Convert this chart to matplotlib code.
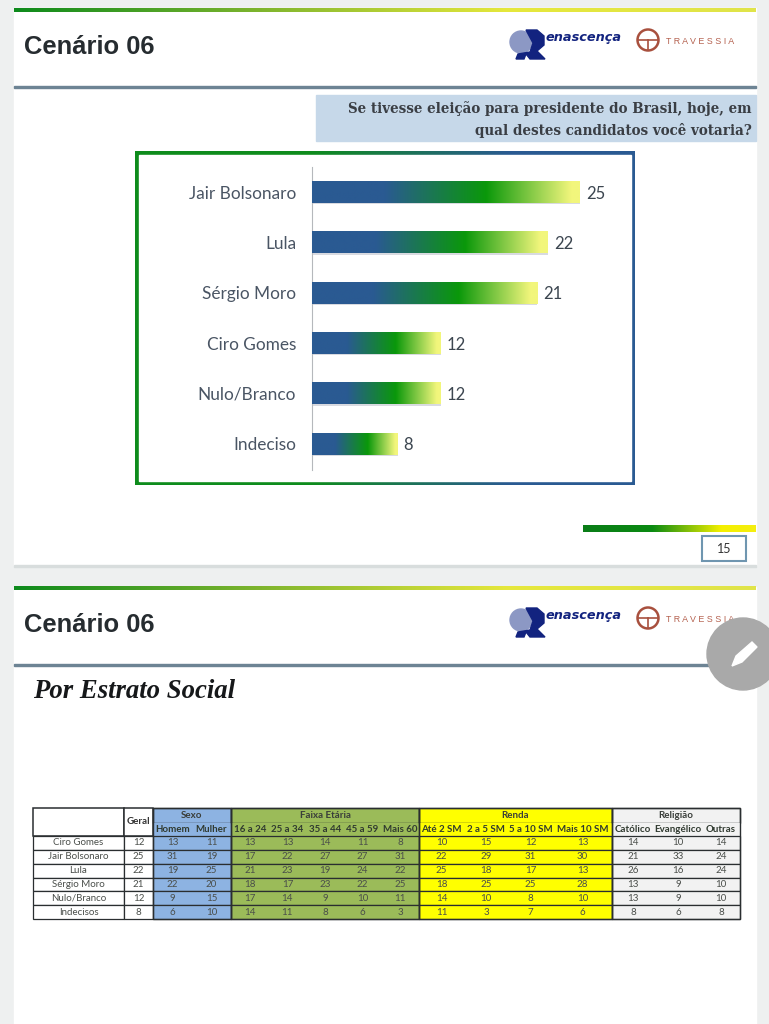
import numpy as np
import matplotlib
matplotlib.use("Agg")
import matplotlib.pyplot as plt
from matplotlib.colors import LinearSegmentedColormap as LSC
from matplotlib.patches import Rectangle, Circle, Polygon

# ---------- data ----------
candidates = ["Jair Bolsonaro", "Lula", "Sérgio Moro", "Ciro Gomes", "Nulo/Branco", "Indeciso"]
votes = [25, 22, 21, 12, 12, 8]

row_labels = ["Ciro Gomes", "Jair Bolsonaro", "Lula", "Sérgio Moro", "Nulo/Branco", "Indecisos"]
geral = [12, 25, 22, 21, 12, 8]
sexo_cols = ["Homem", "Mulher"]
sexo = [[13, 11], [31, 19], [19, 25], [22, 20], [9, 15], [6, 10]]
idade_cols = ["16 a 24", "25 a 34", "35 a 44", "45 a 59", "Mais 60"]
idade = [[13, 13, 14, 11, 8], [17, 22, 27, 27, 31], [21, 23, 19, 24, 22],
         [18, 17, 23, 22, 25], [17, 14, 9, 10, 11], [14, 11, 8, 6, 3]]
renda_cols = ["Até 2 SM", "2 a 5 SM", "5 a 10 SM", "Mais 10 SM"]
renda = [[10, 15, 12, 13], [22, 29, 31, 30], [25, 18, 17, 13],
         [18, 25, 25, 28], [14, 10, 8, 10], [11, 3, 7, 6]]
religiao_cols = ["Católico", "Evangélico", "Outras"]
religiao = [[14, 10, 14], [21, 33, 24], [26, 16, 24], [13, 9, 10], [13, 9, 10], [8, 6, 8]]

# ---------- canvas ----------
BG = "#eef0f0"
fig = plt.figure(figsize=(7.69, 10.24), dpi=100, facecolor=BG)
pg = fig.add_axes([0, 0, 1, 1])
pg.set_xlim(0, 769); pg.set_ylim(1024, 0); pg.axis("off")

bar_cmap = LSC.from_list("bar", [(0, "#2a5a92"), (.27, "#2a5a92"), (.65, "#0a980a"), (.97, "#f2f67c"), (1, "#f2f67c")])
rule_cmap = LSC.from_list("rule", ["#0d8a1c", "#7fb52e", "#e6e83c", "#e0e44a"])
foot_cmap = LSC.from_list("foot", [(0, "#0a7d18"), (.4, "#0a8a12"), (.8, "#f4f000"), (1, "#f4ee10")])
box_cmap = LSC.from_list("box", [(0, "#0e8c1c"), (.35, "#0e8c1c"), (.75, "#2a5a92"), (1, "#2a5a92")])
grad = np.linspace(0, 1, 256).reshape(1, -1)


def grad_rect(ax, x0, x1, y0, y1, cmap, z=2):
    ax.imshow(grad, cmap=cmap, extent=(x0, x1, y1, y0), aspect="auto", zorder=z, interpolation="bilinear")


def slide_header(top, rule):
    grad_rect(pg, 14, 756, top, top + 4, rule_cmap, 3)
    pg.text(24, top + 39.5, "Cenário 06", family="Liberation Sans", weight="bold", size=18.4,
            color="#262c30", va="center")
    pg.add_patch(Rectangle((14, rule - 1), 742, 2, color="#6d8494", zorder=3))
    # Renascença logo
    y = top + 35
    pg.add_patch(Circle((521, y - 1), 11, color="#8c98c4", zorder=3))
    pg.add_patch(Polygon([[526, y - 13], [537, y - 13], [544, y - 7], [544, y + 2], [537, y + 8], [545, y + 16],
                          [530, y + 16], [526, y + 11], [524, y + 16], [516, y + 16], [518, y + 11], [530, y + 9],
                          [533, y]], color="#12237f", zorder=4))
    pg.text(546, y - 5, "enascença", family="DejaVu Sans", weight="bold", style="italic", size=9.3,
            color="#12237f", va="center")
    # Travessia logo
    pg.add_patch(Circle((648, y - 3), 10.5, fc="white", ec="#a8503e", lw=1.8, zorder=3))
    pg.plot([638, 658], [y - 3, y - 3], color="#a8503e", lw=1.2, zorder=4)
    pg.plot([648, 648], [y - 3, y + 7], color="#a8503e", lw=1.2, zorder=4)
    pg.text(666, y - 2, "T R A V E S S I A", family="Liberation Sans", size=6.4, color="#b4604e",
            va="center", zorder=2)


# slides
pg.add_patch(Rectangle((14, 8), 742, 558, color="white", zorder=1))
pg.add_patch(Rectangle((14, 587), 742, 437, color="white", zorder=1))
pg.add_patch(Rectangle((14, 565), 742, 1.5, color="#d8dddd", zorder=2))
slide_header(8, 87)
slide_header(586, 665)

# question box
pg.add_patch(Rectangle((316, 95), 440, 46, color="#c6d8e9", zorder=2))
for yy, s in [(109, "Se tivesse eleição para presidente do Brasil, hoje, em"),
              (130, "qual destes candidatos você votaria?")]:
    pg.text(752, yy, s, family="DejaVu Serif", weight="bold", size=9.75, ha="right", va="center",
            color="#3a3e44", zorder=3)

# gradient frame
grad_rect(pg, 135, 635, 151, 485, box_cmap, 2)
pg.add_patch(Rectangle((139, 155), 492, 326, color="white", zorder=3))

# footer
grad_rect(pg, 583, 756, 525, 532, foot_cmap, 3)
pg.add_patch(Rectangle((702, 536), 44, 25, fc="white", ec="#6f96b0", lw=1.5, zorder=3))
pg.text(724, 549, "15", family="Lato", size=9, ha="center", va="center", color="#333", zorder=4)

pg.text(33, 692, "Por Estrato Social", family="Liberation Serif", weight="bold", style="italic",
        size=19.3, va="center", color="#16181a", zorder=3)

# pencil button
pg.add_patch(Circle((743, 654), 36, color="#a9a9a9", zorder=6))
pg.add_patch(Polygon([[732, 666], [736, 656], [752, 642], [757, 647], [742, 662]], color="white", zorder=7))

# ---------- bar chart ----------
W, H = 769, 1024
ax = fig.add_axes([312 / W, 1 - 470 / H, 300 / W, (470 - 167) / H], facecolor="none", zorder=5)
ypos = np.arange(len(candidates))
bars = ax.barh(ypos, votes, height=0.43, color="none", zorder=2)
for b, v in zip(bars, votes):
    x0, y0, w, h = b.get_x(), b.get_y(), b.get_width(), b.get_height()
    ax.barh(b.get_y() + h / 2 + 0.03, w, height=h, color="#d8dae0", zorder=1)
    ax.imshow(grad, cmap=bar_cmap, extent=(x0, x0 + w, y0 + h, y0), aspect="auto", zorder=3,
              interpolation="bilinear")
    ax.text(v + 0.55, y0 + h / 2 + 0.03, str(v), family="Lato", size=12, va="center", color="#3c4650")
ax.set_xlim(0, 300 / 10.72)
ax.set_ylim(len(candidates) - 0.5 + 0.02, -0.5)
ax.set_yticks(ypos, candidates, family="Lato", size=12.4, color="#4a5564")
ax.tick_params(axis="y", length=0, pad=11.5)
ax.set_xticks([])
for s in ["top", "right", "bottom"]:
    ax.spines[s].set_visible(False)
ax.spines["left"].set_color("#b5b8bc")

# ---------- table ----------
col_edges = [33, 124, 153, 192, 231, 268.6, 306.2, 343.8, 381.4, 419, 464, 508, 553, 612, 654, 702, 740]
top, sub, r0, r1 = 808, 823, 836, 919
row_h = (r1 - r0) / len(row_labels)
groups = [("Sexo", sexo_cols, sexo, "#8db3e2"), ("Faixa Etária", idade_cols, idade, "#9bbb59"),
          ("Renda", renda_cols, renda, "#ffff00"), ("Religião", religiao_cols, religiao, "#f2f2f2")]
EDGE = "#2a2e30"
TC = "#4a4e4a"
FS = 7.0


def cell(x0, x1, y0, y1, fc, txt=None, bold=False, lw=0.9, color=TC, edge=EDGE, size=FS):
    pg.add_patch(Rectangle((x0, y0), x1 - x0, y1 - y0, fc=fc, ec=edge, lw=lw, zorder=3))
    if txt is not None:
        pg.text((x0 + x1) / 2, (y0 + y1) / 2, txt, family="Lato", size=size, ha="center", va="center",
                weight="bold" if bold else "normal", color=color, zorder=5)


cell(col_edges[0], col_edges[1], top, r0, "white", lw=1.1)
cell(col_edges[1], col_edges[2], top, r0, "white", "Geral", bold=True, lw=1.1, color="#333")
for i, (name, g) in enumerate(zip(row_labels, geral)):
    y0 = r0 + i * row_h
    cell(col_edges[0], col_edges[1], y0, y0 + row_h, "white", name)
    cell(col_edges[1], col_edges[2], y0, y0 + row_h, "white", str(g))
c = 2
for title, cols, vals, fc in groups:
    n = len(cols)
    xa, xb = col_edges[c], col_edges[c + n]
    cell(xa, xb, top, sub, fc, title, bold=True, lw=1.0, color="#3a3e3a")
    pg.add_patch(Rectangle((xa, sub), xb - xa, r0 - sub, fc=fc, ec="none", zorder=3))
    for j, lab in enumerate(cols):
        pg.text((col_edges[c + j] + col_edges[c + j + 1]) / 2, (sub + r0) / 2, lab, family="Lato", size=FS,
                ha="center", va="center", weight="bold", color="#303a30", zorder=5)
    for i, row in enumerate(vals):
        y0 = r0 + i * row_h
        pg.add_patch(Rectangle((xa, y0), xb - xa, row_h, fc=fc, ec=EDGE, lw=0.9, zorder=3))
        for j, v in enumerate(row):
            pg.text((col_edges[c + j] + col_edges[c + j + 1]) / 2, y0 + row_h / 2, str(v), family="Lato", size=FS,
                    ha="center", va="center", color=TC, zorder=5)
    pg.add_patch(Rectangle((xa, top), xb - xa, r1 - top, fc="none", ec=EDGE, lw=1.0, zorder=4))
    c += n

pg.set_xlim(0, 769); pg.set_ylim(1024, 0)
fig.savefig("out.png", dpi=100, facecolor=BG)
